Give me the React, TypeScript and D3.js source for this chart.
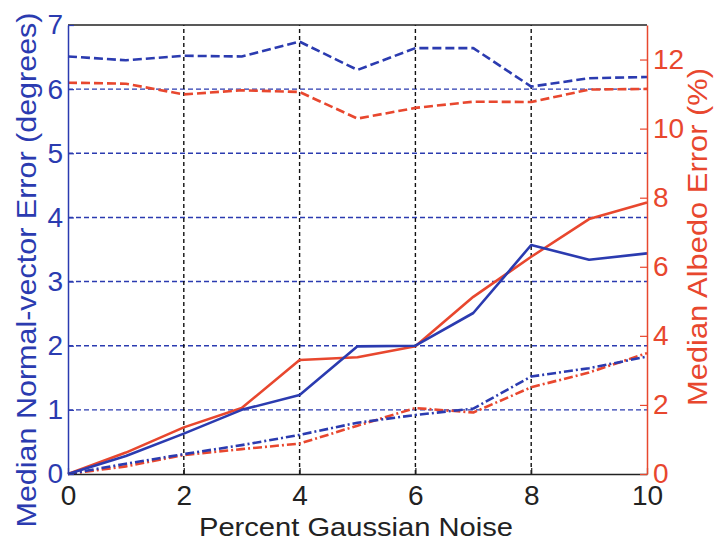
import React, { useRef, useEffect } from "react";
import * as d3 from "d3";

// values (left axis in degrees, right axis in %)
const noise = [0, 1, 2, 3, 4, 5, 6, 7, 8, 9, 10];
const normalDashed = [6.51, 6.45, 6.52, 6.51, 6.74, 6.3, 6.64, 6.64, 6.04, 6.17, 6.19];
const normalSolid = [0, 0.28, 0.63, 1.0, 1.23, 1.99, 2.0, 2.51, 3.57, 3.34, 3.44];
const normalDashDot = [0, 0.16, 0.31, 0.45, 0.61, 0.8, 0.92, 1.02, 1.52, 1.65, 1.83];
const albedoDashed = [11.33, 11.3, 10.99, 11.11, 11.06, 10.29, 10.6, 10.78, 10.77, 11.13, 11.15];
const albedoSolid = [0, 0.62, 1.35, 1.91, 3.3, 3.38, 3.7, 5.13, 6.29, 7.38, 7.86];
const albedoDashDot = [0, 0.22, 0.55, 0.72, 0.88, 1.4, 1.91, 1.78, 2.51, 2.94, 3.5];

const xTicks = [0, 2, 4, 6, 8, 10];
const leftTicks = [0, 1, 2, 3, 4, 5, 6, 7];
const rightTicks = [0, 2, 4, 6, 8, 10, 12];

const BLUE = "#2b3bb0";
const RED = "#e8472e";
const FONT = "'Liberation Sans', Arial, sans-serif";

export default function App() {
  const ref = useRef<SVGSVGElement | null>(null);

  useEffect(() => {
    if (!ref.current) return;
    const svg = d3.select(ref.current);
    svg.selectAll("*").remove();

    const width = 715;
    const height = 543;
    const margin = { top: 25, right: 68, bottom: 69, left: 68 };
    const x0 = margin.left;
    const x1 = width - margin.right;
    const y0 = height - margin.bottom;
    const y1 = margin.top;

    const x = d3.scaleLinear().domain([0, 10]).range([x0, x1]);
    const yL = d3.scaleLinear().domain([0, 7]).range([y0, y1]);
    const yR = d3.scaleLinear().domain([0, 13]).range([y0, y1]);
    const fmt = d3.format("d");

    svg.append("rect").attr("width", width).attr("height", height).attr("fill", "#fff");

    // grid
    svg
      .append("g")
      .selectAll("line")
      .data(leftTicks.slice(1, -1))
      .enter()
      .append("line")
      .attr("x1", x0)
      .attr("x2", x1)
      .attr("y1", (d) => yL(d))
      .attr("y2", (d) => yL(d))
      .attr("stroke", BLUE)
      .attr("stroke-width", 1.4)
      .attr("stroke-dasharray", "5,3");

    svg
      .append("g")
      .selectAll("line")
      .data(xTicks.slice(1, -1))
      .enter()
      .append("line")
      .attr("x1", (d) => x(d))
      .attr("x2", (d) => x(d))
      .attr("y1", y0)
      .attr("y2", y1)
      .attr("stroke", "#111")
      .attr("stroke-width", 1.4)
      .attr("stroke-dasharray", "4,3");

    // series
    const series = [
      { values: normalDashed, scale: yL, color: BLUE, dash: "9,4" },
      { values: albedoDashed, scale: yR, color: RED, dash: "9,4" },
      { values: albedoDashDot, scale: yR, color: RED, dash: "9,3,2,3" },
      { values: normalDashDot, scale: yL, color: BLUE, dash: "9,3,2,3" },
      { values: albedoSolid, scale: yR, color: RED, dash: null },
      { values: normalSolid, scale: yL, color: BLUE, dash: null },
    ];

    series.forEach((s) => {
      const line = d3
        .line<number>()
        .x((_d, i) => x(noise[i]))
        .y((d) => s.scale(d));
      svg
        .append("path")
        .datum(s.values)
        .attr("d", line)
        .attr("fill", "none")
        .attr("stroke", s.color)
        .attr("stroke-width", 2.6)
        .attr("stroke-linejoin", "round")
        .attr("stroke-dasharray", s.dash);
    });

    // frame
    svg.append("line").attr("x1", x0).attr("x2", x1).attr("y1", y1).attr("y2", y1).attr("stroke", "#222").attr("stroke-width", 1.5);

    // bottom axis
    const xAxis = svg
      .append("g")
      .attr("transform", `translate(0,${y0})`)
      .call(d3.axisBottom(x).tickValues(xTicks).tickFormat(fmt).tickSizeInner(-6).tickSizeOuter(0).tickPadding(11));
    xAxis.select(".domain").attr("stroke", "#222").attr("stroke-width", 1.5);
    xAxis.selectAll(".tick line").attr("stroke", "#222").attr("stroke-width", 1.2);
    xAxis
      .selectAll("text")
      .attr("fill", "#222")
      .attr("font-size", "28px")
      .attr("font-family", FONT);

    // left axis
    const lAxis = svg
      .append("g")
      .attr("transform", `translate(${x0},0)`)
      .call(d3.axisLeft(yL).tickValues(leftTicks).tickFormat(fmt).tickSizeInner(-6).tickSizeOuter(0).tickPadding(5));
    lAxis.select(".domain").attr("stroke", BLUE).attr("stroke-width", 1.5);
    lAxis.selectAll(".tick line").attr("stroke", BLUE).attr("stroke-width", 1.2);
    lAxis
      .selectAll("text")
      .attr("fill", BLUE)
      .attr("font-size", "28px")
      .attr("font-family", FONT);

    // right axis
    const rAxis = svg
      .append("g")
      .attr("transform", `translate(${x1},0)`)
      .call(d3.axisRight(yR).tickValues(rightTicks).tickFormat(fmt).tickSizeInner(-7).tickSizeOuter(0).tickPadding(6));
    rAxis.select(".domain").attr("stroke", RED).attr("stroke-width", 1.5);
    rAxis.selectAll(".tick line").attr("stroke", RED).attr("stroke-width", 1.2);
    rAxis
      .selectAll("text")
      .attr("fill", RED)
      .attr("font-size", "28px")
      .attr("font-family", FONT);

    // axis titles
    svg
      .append("text")
      .attr("x", 356)
      .attr("y", 536)
      .attr("text-anchor", "middle")
      .attr("fill", "#222")
      .attr("font-size", "26px")
      .attr("font-family", FONT)
      .attr("textLength", 314)
      .attr("lengthAdjust", "spacingAndGlyphs")
      .text("Percent Gaussian Noise");

    svg
      .append("text")
      .attr("transform", `translate(36,270) rotate(-90)`)
      .attr("text-anchor", "middle")
      .attr("fill", BLUE)
      .attr("font-size", "28px")
      .attr("font-family", FONT)
      .attr("textLength", 515)
      .attr("lengthAdjust", "spacingAndGlyphs")
      .text("Median Normal-vector Error (degrees)");

    svg
      .append("text")
      .attr("transform", `translate(707,237) rotate(-90)`)
      .attr("text-anchor", "middle")
      .attr("fill", RED)
      .attr("font-size", "28px")
      .attr("font-family", FONT)
      .attr("textLength", 338)
      .attr("lengthAdjust", "spacingAndGlyphs")
      .text("Median Albedo Error (%)");

    return () => {
      svg.selectAll("*").remove();
    };
  }, []);

  return (
    <svg
      ref={ref}
      width={715}
      height={543}
      style={{ position: "absolute", left: 0, top: 0, display: "block" }}
    />
  );
}
